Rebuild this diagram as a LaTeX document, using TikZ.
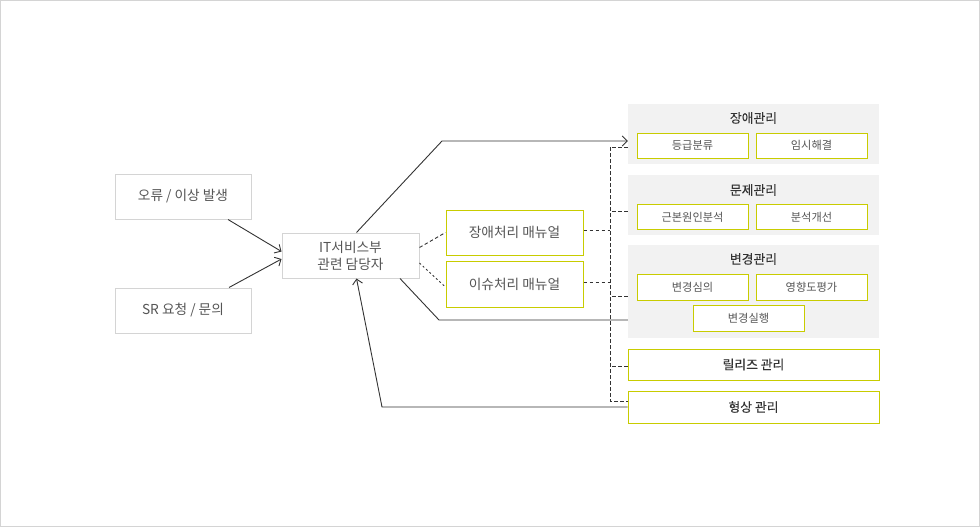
\documentclass[tikz,border=0pt]{standalone}
\usepackage{fontspec}
\usetikzlibrary{arrows.meta,calc}
\newfontfamily\kr{Noto Sans CJK KR}
\newfontfamily\krb[FakeBold=0.25]{Noto Sans CJK KR}
\definecolor{ylw}{RGB}{200,204,0}
\definecolor{pnl}{RGB}{242,242,242}
\definecolor{gbd}{RGB}{212,212,212}
\definecolor{txt}{RGB}{85,85,85}
\definecolor{ttl}{RGB}{51,51,51}
\definecolor{lnc}{RGB}{51,51,51}
\tikzset{
  greybox/.style={draw=gbd, line width=1pt, fill=white, minimum width=136pt, minimum height=45pt, inner sep=0pt, text=txt, font=\kr\fontsize{13.7}{17}\selectfont, align=center},
  ybox/.style={draw=ylw, line width=1pt, fill=white, minimum width=137pt, minimum height=45pt, inner sep=0pt, text=txt, font=\kr\fontsize{13.7}{17}\selectfont},
  panel/.style={draw=none, fill=pnl, minimum width=251pt, inner sep=0pt},
  subbox/.style={draw=ylw, line width=1pt, fill=white, minimum width=111pt, minimum height=25pt, inner sep=0pt, text=txt, font=\kr\fontsize{11.2}{13}\selectfont},
  wbox/.style={draw=ylw, line width=1pt, fill=white, minimum width=251pt, inner sep=0pt, text=ttl, font=\krb\fontsize{12.8}{16}\selectfont},
  ttltext/.style={text=ttl, font=\krb\fontsize{12.8}{16}\selectfont, inner sep=0pt},
  conn/.style={draw=lnc, line width=0.9pt},
  arr/.style={conn, -{Straight Barb[length=5pt,width=10pt,line width=0.9pt]}},
  dsh/.style={draw=lnc, line width=0.9pt, dash pattern=on 3.5pt off 2.5pt},
  dsh2/.style={draw=lnc, line width=0.9pt, dash pattern=on 2pt off 2.5pt},
}
\begin{document}
\begin{tikzpicture}[x=1pt,y=-1pt]
\useasboundingbox (0,0) rectangle (980,527);
\draw[draw=gbd, line width=1pt] (0.5,0.5) rectangle (979.5,526.5);

% left boxes
\node[greybox] (err) at (183,196.5) {오류 / 이상 발생};
\node[greybox] (sr) at (183,310.5) {SR 요청 / 문의};
\node[greybox, minimum width=137pt, font=\kr\fontsize{13.7}{17}\selectfont] (it) at (350.5,255.5) {IT서비스부\\관련 담당자};

% manuals
\node[ybox] (m1) at (514.5,232.5) {장애처리 매뉴얼};
\node[ybox, minimum height=46pt] (m2) at (514.5,284) {이슈처리 매뉴얼};

% panels
\node[panel, minimum height=60pt] (p1) at (753.5,134) {};
\node[ttltext] (p1t) at (753.5,118) {장애관리};
\node[subbox] (p1a) at (692.5,145.5) {등급분류};
\node[subbox] (p1b) at (811.5,145.5) {임시해결};

\node[panel, minimum height=60pt] (p2) at (753.5,205) {};
\node[ttltext] (p2t) at (753.5,190) {문제관리};
\node[subbox] (p2a) at (692.5,217) {근본원인분석};
\node[subbox] (p2b) at (811.5,217) {분석개선};

\node[panel, minimum height=93pt] (p3) at (753.5,291.5) {};
\node[ttltext] (p3t) at (753.5,259) {변경관리};
\node[subbox, minimum height=26pt] (p3a) at (692.5,287) {변경심의};
\node[subbox, minimum height=26pt] (p3b) at (811.5,287) {영향도평가};
\node[subbox, minimum height=26pt] (p3c) at (748.5,318) {변경실행};

\node[wbox, minimum height=31pt] (rel) at (753.5,364.5) {릴리즈 관리};
\node[wbox, minimum height=32pt] (cfg) at (753.5,407) {형상 관리};

% coordinates for bends
\coordinate (c1) at (442,141);
\coordinate (c2) at (439,320);
\coordinate (c3) at (382,407);
\coordinate (bt) at (610,147);
\coordinate (bb) at (610,401);

% solid connectors
\draw[arr] ($(err.south)+(45,0)$) -- ($(it.west)+(0,-4)$);
\draw[arr] ($(sr.north)+(46,0)$) -- ($(it.west)+(0,3.5)$);
\draw[arr] ($(it.north)+(6,0)$) -- (c1) -- ($(p1.west)+(0,7)$);
\draw[conn] ($(it.south)+(49.5,0)$) -- (c2) -- ($(p3.west)+(0,28.5)$);
\draw[arr] (cfg.west) -- (c3) -- ($(it.south)+(6,0)$);

% dashed connectors
\draw[dsh] ($(it.east)+(0,-8)$) -- (m1.west);
\draw[dsh2] ($(it.east)+(0,7.5)$) -- ($(m2.west)+(0,3)$);
\draw[dsh] ($(m1.east)+(0,-2)$) -- ($(bt)+(0,83.5)$);
\draw[dsh] ($(m2.east)+(0,-2)$) -- ($(bt)+(0,135)$);
\draw[dsh] ($(p1.west)+(0,13)$) -- (bt) -- (bb) -- ($(cfg.west)+(0,-6)$);
\draw[dsh] ($(p2.west)+(0,6)$) -- ($(bt)+(0,64)$);
\draw[dsh] ($(p3.west)+(0,4.5)$) -- ($(bt)+(0,149)$);
\draw[dsh] ($(rel.west)+(0,1.5)$) -- ($(bt)+(0,219)$);
\end{tikzpicture}
\end{document}
